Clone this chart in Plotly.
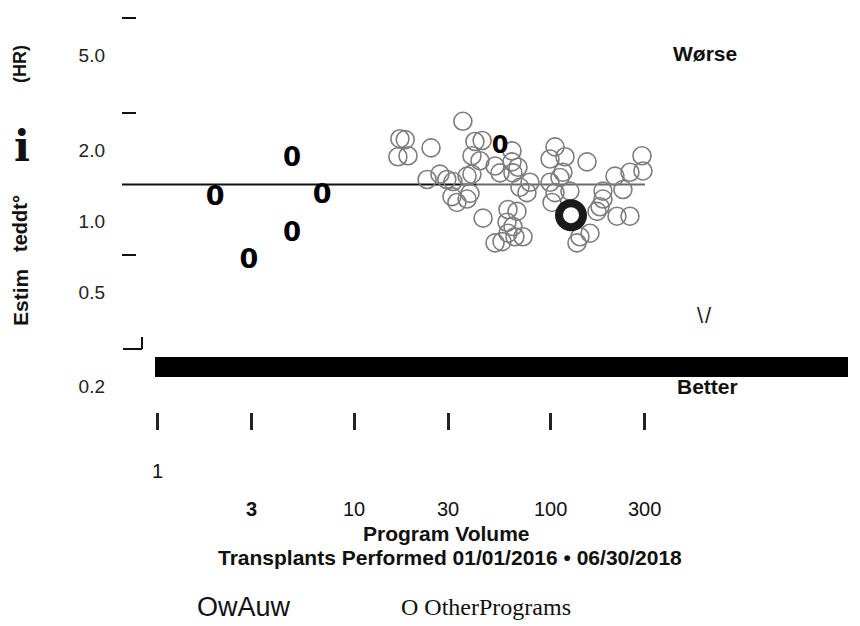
import math
import plotly.graph_objects as go

# Other programs: volume (transplants) and estimated hazard ratio
other_volume = [35.7, 17.1, 18.2, 16.7, 18.8, 24.6, 41.1, 44.7, 39.7, 43.6,
                52.0, 55.1, 63.4, 64.1, 23.5, 27.3, 29.6, 31.8, 37.5, 39.7,
                31.4, 33.3, 37.5, 38.8, 45.2, 60.5, 59.8, 60.5, 65.6, 52.0,
                56.4, 104.8, 98.9, 117.8, 152.4, 289.7, 293.1, 251.8, 211.3, 68.0,
                69.6, 78.2, 75.5, 98.9, 111.1, 115.0, 124.8, 101.2, 104.8, 183.6,
                231.9, 183.6, 177.4, 171.3, 216.3, 251.8, 157.8, 140.3, 135.5, 67.2,
                72.1, 64.1, 63.4]
other_hr = [2.64, 2.23, 2.21, 1.87, 1.89, 2.04, 2.17, 2.19, 1.89, 1.80,
            1.71, 1.60, 1.78, 1.60, 1.50, 1.58, 1.50, 1.47, 1.55, 1.58,
            1.27, 1.20, 1.24, 1.31, 1.03, 1.12, 0.99, 0.89, 0.86, 0.81,
            0.82, 2.06, 1.83, 1.87, 1.78, 1.89, 1.63, 1.61, 1.55, 1.69,
            1.39, 1.46, 1.32, 1.46, 1.53, 1.61, 1.34, 1.20, 1.32, 1.34,
            1.36, 1.24, 1.15, 1.10, 1.05, 1.05, 0.89, 0.86, 0.81, 1.10,
            0.86, 0.95, 1.98]

# Programs drawn with a bold "0" glyph
zero_volume = [1.97, 4.84, 6.88, 4.84, 2.93, 55.1]
zero_hr = [1.25, 1.83, 1.27, 0.875, 0.678, 2.06]
zero_size = [27, 26, 27, 26, 27, 24]

# Highlighted program
this_volume = [126.4]
this_hr = [1.06]

# Reference line
ref_hr = 1.43
ref_x_dark = [0.664, 42.0]
ref_x_light = [42.0, 300.0]

# Axis ticks
x_tickvals = [1, 3, 10, 30, 100, 300]
x_ticktext = ["1", "<b>3</b>", "10", "30", "100", "300"]
y_tickvals = [0.2, 0.5, 1.0, 2.0, 5.0]
y_ticktext = ["0.2", "0.5", "1.0", "2.0", "5.0"]

SANS = "Liberation Sans, Arial, sans-serif"

fig = go.Figure()

fig.add_trace(go.Scatter(
    x=ref_x_dark, y=[ref_hr, ref_hr], mode="lines",
    line=dict(color="#111111", width=2), hoverinfo="skip", showlegend=False))
fig.add_trace(go.Scatter(
    x=ref_x_light, y=[ref_hr, ref_hr], mode="lines",
    line=dict(color="#6a6a6a", width=2), hoverinfo="skip", showlegend=False))

fig.add_trace(go.Scatter(
    x=other_volume, y=other_hr, mode="markers",
    marker=dict(symbol="circle-open", size=18, color="#7d7d7d",
                line=dict(color="#7d7d7d", width=1.6)),
    showlegend=False))

fig.add_trace(go.Scatter(
    x=zero_volume, y=zero_hr, mode="text", text=["0"] * len(zero_volume),
    textposition="middle center",
    textfont=dict(family="DejaVu Sans", size=zero_size, color="#000000", weight="bold"),
    showlegend=False))

fig.add_trace(go.Scatter(
    x=this_volume, y=this_hr, mode="markers",
    marker=dict(symbol="circle-open", size=24, color="#1a1a1a",
                line=dict(color="#1a1a1a", width=8)),
    showlegend=False))

L, R, T, B = 122, 12, 10, 214
W, H = 860, 626
PW, PH = W - L - R, H - T - B


def px_x(px):
    return (px - L) / PW


def px_y(py):
    return (H - B - py) / PH


shapes = []
# black band above "Better"
shapes.append(dict(type="rect", xref="paper", yref="paper",
                   x0=px_x(155), x1=1.0, y0=px_y(377), y1=px_y(357),
                   fillcolor="#000000", line=dict(width=0)))
# short left tick marks
for py in [18, 113, 255]:
    shapes.append(dict(type="line", xref="paper", yref="paper",
                       x0=px_x(122), x1=px_x(136), y0=px_y(py), y1=px_y(py),
                       line=dict(color="#111111", width=2)))
shapes.append(dict(type="line", xref="paper", yref="paper",
                   x0=px_x(123), x1=px_x(142), y0=px_y(349), y1=px_y(349),
                   line=dict(color="#111111", width=2)))
shapes.append(dict(type="line", xref="paper", yref="paper",
                   x0=px_x(142), x1=px_x(142), y0=px_y(337), y1=px_y(349),
                   line=dict(color="#111111", width=2)))


def label(px, py, text, size, family=SANS, angle=0, color="#111111"):
    return dict(x=px_x(px), y=px_y(py), xref="paper", yref="paper",
                text=text, showarrow=False, textangle=angle,
                xanchor="center", yanchor="middle",
                font=dict(family=family, size=size, color=color))


annotations = []
for v, t in zip(x_tickvals, x_ticktext):
    annotations.append(dict(
        x=math.log10(v), xref="x", y=px_y(471 if v == 1 else 509), yref="paper",
        text=t, showarrow=False, xanchor="center", yanchor="middle",
        font=dict(family=SANS, size=20, color="#111111")))

annotations += [
    label(446, 533, "<b>Program Volume</b>", 21),
    label(450, 557, "<b>Transplants Performed 01/01/2016 \u2022 06/30/2018</b>", 21),
    label(705, 54, "<b>W\u00f8rse</b>", 21),
    label(707, 386, "<b>Better</b>", 21),
    label(704, 315, "\\\u200a/", 22, color="#222222"),
    # y-axis title pieces
    label(20, 298, "<b>Estim</b>", 21, angle=-90),
    label(20, 224, "<b>teddt\u00b0</b>", 20, angle=-90),
    label(22, 146, "<b>i</b>", 42, family="DejaVu Serif"),
    label(20, 64, "<b>(HR)</b>", 18, angle=-90),
    # legend row
    label(244, 607, "OwAuw", 27),
    label(486, 607, "O OtherPrograms", 24, family="Liberation Serif, serif"),
]

fig.update_layout(
    width=W, height=H,
    margin=dict(l=L, r=R, t=T, b=B),
    paper_bgcolor="white", plot_bgcolor="white",
    shapes=shapes, annotations=annotations,
    showlegend=False,
    xaxis=dict(type="log", range=[-0.178, 3.508], showgrid=False, zeroline=False,
               showline=False, tickvals=x_tickvals, showticklabels=False,
               ticks="outside", ticklen=17, tickwidth=2.5, tickcolor="#222222"),
    yaxis=dict(type="log", range=[-0.8054, 0.8915], showgrid=False, zeroline=False,
               showline=False, tickvals=y_tickvals, ticktext=y_ticktext, ticks="",
               ticklabelstandoff=16,
               tickfont=dict(family=SANS, size=19, color="#222222")),
)

fig.write_html("out.html")
